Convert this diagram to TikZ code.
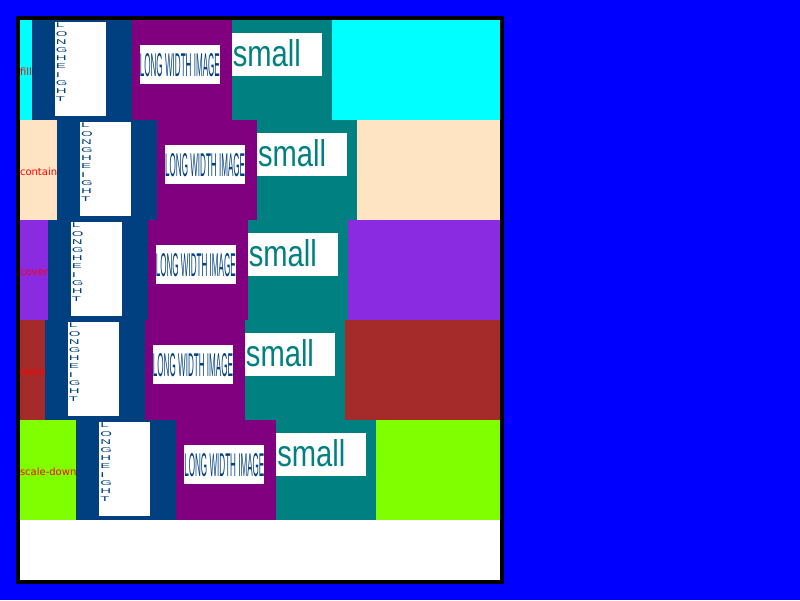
\documentclass[tikz,border=0pt]{standalone}
\usepackage{fontspec}
\setmainfont{DejaVu Sans}
\newfontfamily\arialfont{Liberation Sans}
\usepackage{graphicx}
\usetikzlibrary{positioning,calc}

\definecolor{pagebg}{RGB}{0,0,255}
\definecolor{imgnavy}{RGB}{0,64,128}
\definecolor{imgpurple}{RGB}{128,0,128}
\definecolor{imgteal}{RGB}{0,128,128}
\definecolor{rowcyan}{RGB}{0,255,255}
\definecolor{rowbisque}{RGB}{255,228,196}
\definecolor{rowviolet}{RGB}{138,43,226}
\definecolor{rowbrown}{RGB}{165,42,42}
\definecolor{rowgreen}{RGB}{127,255,0}

\tikzset{
  img/.style={inner sep=0pt, outer sep=0pt, minimum width=100pt, minimum height=100pt},
  lbl/.style={inner sep=0pt, outer sep=0pt, anchor=base west, text=red, font=\fontsize{10}{10}\selectfont},
  pictext/.style={inner sep=0pt, outer sep=0pt, anchor=north west},
}

\begin{document}
\begin{tikzpicture}[x=1pt,y=-1pt]
\useasboundingbox (0,0) rectangle (800,600);
\fill[pagebg] (0,0) rectangle (800,600);
\draw[line width=4pt, fill=white] (18,18) rectangle (502,582);

\foreach \i/\mode/\col in {0/fill/rowcyan, 1/contain/rowbisque, 2/cover/rowviolet, 3/none/rowbrown, 4/scale-down/rowgreen}{
  \fill[\col] (20,20+100*\i) rectangle (500,120+100*\i);
  \node[lbl] (lbl\i) at (20,75+100*\i) {\mode};
  \coordinate (row\i) at (lbl\i.east |- 0,70+100*\i);
  \node[img, fill=imgnavy, anchor=west] (tall\i) at (row\i) {};
  \node[img, fill=imgpurple, right=0pt of tall\i] (wide\i) {};
  \node[img, fill=imgteal, right=0pt of wide\i] (small\i) {};
  % long height picture
  \fill[white] ($(tall\i.north west)+(23,2)$) rectangle +(51,94);
  \foreach \ch [count=\k from 0] in {L,O,N,G,H,E,I,G,H,T}
    \node[pictext, text=imgnavy] (ch\i\k) at ($(tall\i.north west)+(24,3+8.2*\k)$)
      {\scalebox{1.5}[0.7]{\arialfont\fontsize{10}{10}\selectfont\ch}};
  % long width picture
  \fill[white] ($(wide\i.north west)+(8,25)$) rectangle +(80,39);
  \node[pictext, text=imgnavy] (wtxt\i) at ($(wide\i.north west)+(8,33)$)
    {\resizebox{80pt}{23pt}{\arialfont LONG WIDTH IMAGE}};
  % small picture
  \fill[white] ($(small\i.north west)+(0,13)$) rectangle +(90,43);
  \node[pictext, text=imgteal] (stxt\i) at ($(small\i.north west)+(1,19)$)
    {\resizebox{68pt}{27pt}{\arialfont small}};
}
\end{tikzpicture}
\end{document}
